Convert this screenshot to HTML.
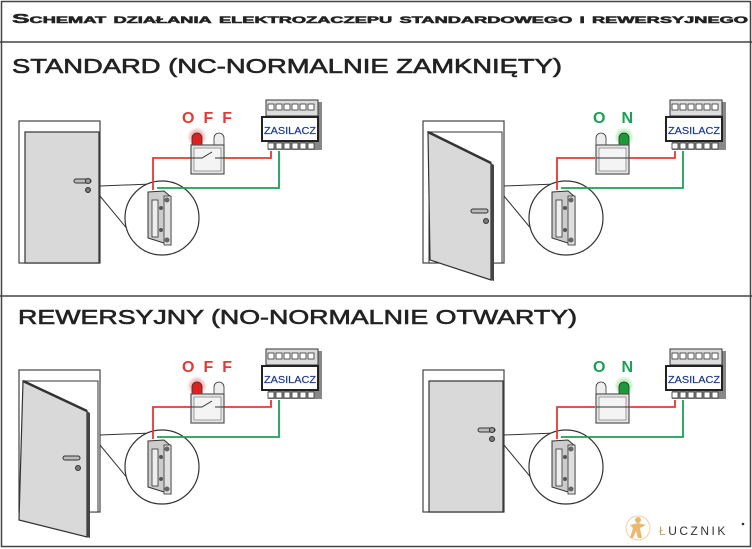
<!DOCTYPE html>
<html><head><meta charset="utf-8"><style>
html,body{margin:0;padding:0;background:#fff}
svg{display:block}
text{font-family:"Liberation Sans",sans-serif}
</style></head><body>
<svg width="752" height="549" viewBox="0 0 752 549" xmlns="http://www.w3.org/2000/svg">
<defs>
<radialGradient id="gr" cx="0.5" cy="0.5" r="0.5"><stop offset="0.3" stop-color="#f08080" stop-opacity="0.9"/><stop offset="1" stop-color="#f08080" stop-opacity="0"/></radialGradient>
<radialGradient id="gg" cx="0.5" cy="0.5" r="0.5"><stop offset="0.3" stop-color="#7ee07e" stop-opacity="0.9"/><stop offset="1" stop-color="#7ee07e" stop-opacity="0"/></radialGradient>
</defs>
<rect x="1.5" y="1.5" width="749" height="545" fill="none" stroke="#444" stroke-width="1.5"/>
<line x1="0" y1="42" x2="752" y2="42" stroke="#444" stroke-width="1.5"/>
<line x1="0" y1="296" x2="752" y2="296" stroke="#444" stroke-width="1.5"/>
<text x="12" y="23" font-size="13" font-weight="bold" fill="#222" stroke="#222" stroke-width="0.5" style="font-variant:small-caps" textLength="736" lengthAdjust="spacingAndGlyphs">Schemat działania elektrozaczepu standardowego i rewersyjnego</text>
<text x="12" y="73" font-size="20" fill="#222" textLength="550" lengthAdjust="spacingAndGlyphs" stroke="#222" stroke-width="0.6">STANDARD (NC-NORMALNIE ZAMKNIĘTY)</text>
<text x="18" y="324" font-size="20" fill="#222" textLength="559" lengthAdjust="spacingAndGlyphs" stroke="#222" stroke-width="0.6">REWERSYJNY (NO-NORMALNIE OTWARTY)</text>

<!-- PANEL 1 -->
<g>
 <rect x="19" y="121" width="81" height="142" fill="#fff" stroke="#444" stroke-width="1.2"/>
 <rect x="25" y="132" width="74" height="131" fill="#d9d9d9" stroke="#333" stroke-width="1.2"/>
 <rect x="74" y="179" width="17" height="4" rx="2" fill="#bbb" stroke="#333"/>
 <circle cx="88" cy="181" r="2.5" fill="#999" stroke="#333"/>
 <circle cx="88" cy="190" r="2.5" fill="#777" stroke="#333"/>
 <g id="s1">
 <line x1="100" y1="186" x2="152" y2="184" stroke="#333"/>
 <line x1="100" y1="196" x2="143" y2="248" stroke="#333"/>
 <circle cx="162" cy="218" r="37" fill="#fff" stroke="#333" stroke-width="1.2"/>
 <polygon points="148,192 164,191 171,197 171,245 164,243 148,238" fill="#ccc" stroke="#333"/>
 <rect x="152" y="200" width="6" height="37" fill="#eee" stroke="#333" stroke-width="0.8"/>
 <rect x="164" y="196" width="7" height="49" fill="#e0e0e0" stroke="#333" stroke-width="0.8"/>
 <circle cx="167" cy="200" r="2.5" fill="#666"/><circle cx="167" cy="240" r="2.5" fill="#666"/>
 <circle cx="161" cy="208" r="2" fill="#555"/><circle cx="161" cy="230" r="2" fill="#555"/>
 </g>
 <polyline points="153,190 153,158 191,158" fill="none" stroke="#e53935" stroke-width="1.8"/>
 <polyline points="224,158 271,158 271,151" fill="none" stroke="#e53935" stroke-width="1.8"/>
 <polyline points="157,188 279,188 279,151" fill="none" stroke="#1aa055" stroke-width="1.8"/>
 <circle cx="197" cy="137" r="10" fill="url(#gr)"/>
 <path d="M192,145 v-7 a5,5 0 0 1 10,0 v7z" fill="#e02020" stroke="#333" stroke-width="0.8"/>
 <path d="M214,145 v-7 a5,5 0 0 1 10,0 v7z" fill="#eee" stroke="#333" stroke-width="0.8"/>
 <rect x="191" y="145" width="33" height="29" fill="#e6e6e6" stroke="#555" stroke-width="1.2"/>
 <rect x="194" y="148" width="27" height="23" fill="#f4f4f4" stroke="#888" stroke-width="0.8"/>
 <polyline points="191,158 202,158 212,152" fill="none" stroke="#333"/><line x1="215" y1="158" x2="224" y2="158" stroke="#333"/>
 <text x="182" y="123" font-size="16" font-weight="bold" fill="#e53935" textLength="50" lengthAdjust="spacing">OFF</text>
 <g id="z1">
  <rect x="268" y="102" width="54" height="48" fill="#888"/>
  <rect x="266" y="100" width="52" height="16" fill="#ddd" stroke="#333"/>
  <g fill="#fff" stroke="#333" stroke-width="0.8"><rect x="268" y="104" width="6" height="6"/><rect x="276" y="104" width="6" height="6"/><rect x="284" y="104" width="6" height="6"/><rect x="292" y="104" width="6" height="6"/><rect x="300" y="104" width="6" height="6"/><rect x="308" y="104" width="6" height="6"/>
  <rect x="268" y="143" width="6" height="6"/><rect x="276" y="143" width="6" height="6"/><rect x="284" y="143" width="6" height="6"/><rect x="292" y="143" width="6" height="6"/><rect x="300" y="143" width="6" height="6"/><rect x="308" y="143" width="6" height="6"/></g>
  <rect x="262" y="117" width="56" height="24" fill="#fff" stroke="#222" stroke-width="2"/>
  <text x="264" y="134" font-size="10.5" fill="#1a3a8a" textLength="52" lengthAdjust="spacingAndGlyphs" stroke="#1a3a8a" stroke-width="0.2">ZASILACZ</text>
 </g>
</g>

<!-- PANEL 2 -->
<g transform="translate(404,0)">
 <rect x="19" y="121" width="81" height="142" fill="#fff" stroke="#444" stroke-width="1.2"/>
 <rect x="25" y="132" width="73" height="131" fill="#fff" stroke="#333" stroke-width="1"/>
 <polygon points="24,132 87,163 87,280 26,260" fill="#d9d9d9" stroke="#333" stroke-width="1.2"/>
 <polygon points="87,163 90,165 90,281 87,280" fill="#444"/>
 <line x1="24" y1="132" x2="87" y2="163" stroke="#333" stroke-width="2.5"/>
 <rect x="67" y="209" width="17" height="4" rx="2" fill="#bbb" stroke="#333"/>
 <circle cx="82" cy="221" r="2.5" fill="#777" stroke="#333"/>
 <use href="#s1"/>
 <polyline points="153,190 153,158 191,158" fill="none" stroke="#e53935" stroke-width="1.8"/>
 <polyline points="224,158 271,158 271,151" fill="none" stroke="#e53935" stroke-width="1.8"/>
 <polyline points="157,188 279,188 279,151" fill="none" stroke="#1aa055" stroke-width="1.8"/>
 <circle cx="220" cy="137" r="10" fill="url(#gg)"/>
 <path d="M192,145 v-7 a5,5 0 0 1 10,0 v7z" fill="#eee" stroke="#333" stroke-width="0.8"/>
 <path d="M215,145 v-7 a5,5 0 0 1 10,0 v7z" fill="#1a9a3a" stroke="#333" stroke-width="0.8"/>
 <rect x="192" y="145" width="33" height="29" fill="#e6e6e6" stroke="#555" stroke-width="1.2"/>
 <rect x="195" y="148" width="27" height="23" fill="#f4f4f4" stroke="#888" stroke-width="0.8"/>
 <line x1="192" y1="158" x2="225" y2="158" stroke="#333"/>
 <text x="189" y="123" font-size="16" font-weight="bold" fill="#1aa055" textLength="40" lengthAdjust="spacing">ON</text>
 <use href="#z1"/>
</g>

<!-- PANEL 3 -->
<g transform="translate(0,249)">
 <rect x="19" y="121" width="81" height="142" fill="#fff" stroke="#444" stroke-width="1.2"/>
 <rect x="25" y="132" width="73" height="131" fill="#fff" stroke="#333" stroke-width="1"/>
 <polygon points="23,132 87,162 87,288 19,271" fill="#d9d9d9" stroke="#333" stroke-width="1.2"/>
 <polygon points="87,162 90,164 90,289 87,288" fill="#444"/>
 <line x1="23" y1="132" x2="87" y2="162" stroke="#333" stroke-width="2.5"/>
 <rect x="63" y="207" width="17" height="4" rx="2" fill="#bbb" stroke="#333"/>
 <circle cx="78" cy="219" r="2.5" fill="#777" stroke="#333"/>
 <use href="#s1"/>
 <polyline points="153,190 153,158 191,158" fill="none" stroke="#e53935" stroke-width="1.8"/>
 <polyline points="224,158 271,158 271,151" fill="none" stroke="#e53935" stroke-width="1.8"/>
 <polyline points="157,188 279,188 279,151" fill="none" stroke="#1aa055" stroke-width="1.8"/>
 <circle cx="197" cy="137" r="10" fill="url(#gr)"/>
 <path d="M192,145 v-7 a5,5 0 0 1 10,0 v7z" fill="#e02020" stroke="#333" stroke-width="0.8"/>
 <path d="M214,145 v-7 a5,5 0 0 1 10,0 v7z" fill="#eee" stroke="#333" stroke-width="0.8"/>
 <rect x="191" y="145" width="33" height="29" fill="#e6e6e6" stroke="#555" stroke-width="1.2"/>
 <rect x="194" y="148" width="27" height="23" fill="#f4f4f4" stroke="#888" stroke-width="0.8"/>
 <polyline points="191,158 202,158 212,152" fill="none" stroke="#333"/><line x1="215" y1="158" x2="224" y2="158" stroke="#333"/>
 <text x="182" y="123" font-size="16" font-weight="bold" fill="#e53935" textLength="50" lengthAdjust="spacing">OFF</text>
 <use href="#z1"/>
</g>

<!-- PANEL 4 -->
<g transform="translate(404,249)">
 <rect x="19" y="121" width="81" height="142" fill="#fff" stroke="#444" stroke-width="1.2"/>
 <rect x="25" y="132" width="74" height="131" fill="#d9d9d9" stroke="#333" stroke-width="1.2"/>
 <rect x="74" y="179" width="17" height="4" rx="2" fill="#bbb" stroke="#333"/>
 <circle cx="88" cy="181" r="2.5" fill="#999" stroke="#333"/>
 <circle cx="88" cy="190" r="2.5" fill="#777" stroke="#333"/>
 <use href="#s1"/>
 <polyline points="153,190 153,158 191,158" fill="none" stroke="#e53935" stroke-width="1.8"/>
 <polyline points="224,158 271,158 271,151" fill="none" stroke="#e53935" stroke-width="1.8"/>
 <polyline points="157,188 279,188 279,151" fill="none" stroke="#1aa055" stroke-width="1.8"/>
 <circle cx="220" cy="137" r="10" fill="url(#gg)"/>
 <path d="M192,145 v-7 a5,5 0 0 1 10,0 v7z" fill="#eee" stroke="#333" stroke-width="0.8"/>
 <path d="M215,145 v-7 a5,5 0 0 1 10,0 v7z" fill="#1a9a3a" stroke="#333" stroke-width="0.8"/>
 <rect x="192" y="145" width="33" height="29" fill="#e6e6e6" stroke="#555" stroke-width="1.2"/>
 <rect x="195" y="148" width="27" height="23" fill="#f4f4f4" stroke="#888" stroke-width="0.8"/>
 <line x1="192" y1="158" x2="225" y2="158" stroke="#333"/>
 <text x="189" y="123" font-size="16" font-weight="bold" fill="#1aa055" textLength="40" lengthAdjust="spacing">ON</text>
 <use href="#z1"/>
</g>

<!-- logo -->
<circle cx="638" cy="528" r="12" fill="none" stroke="#f0d8b0" stroke-width="1.2"/>
<circle cx="638" cy="520" r="3" fill="#e8b870"/>
<path d="M630,525 l8,-2 l8,2 l-6,3 l2,10 l-4,0 l-2,-7 l-3,7 l-3,0 l3,-10z" fill="#eab870"/>
<text x="659" y="535" font-size="12" fill="#333" letter-spacing="2.5"><tspan fill="#d8a050">Ł</tspan>UCZNIK</text>
<circle cx="743" cy="524" r="1.3" fill="#333"/>
</svg>
</body></html>
